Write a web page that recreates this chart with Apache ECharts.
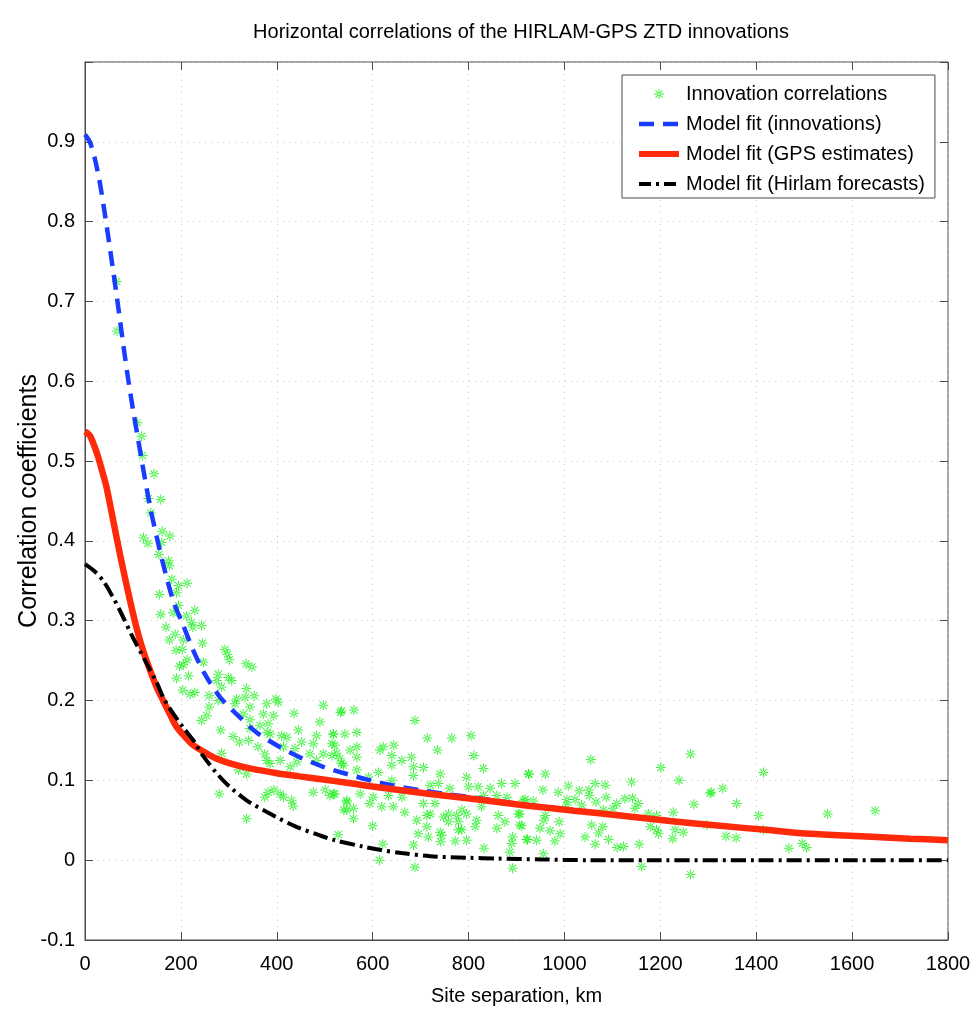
<!DOCTYPE html>
<html>
<head>
<meta charset="utf-8">
<title>Horizontal correlations of the HIRLAM-GPS ZTD innovations</title>
<script src="https://cdn.jsdelivr.net/npm/echarts@6/dist/echarts.min.js"></script>
<style>
  html, body { margin: 0; padding: 0; background: #fff; }
  #chart { width: 971px; height: 1009px; }
</style>
</head>
<body>
<div id="chart"></div>
<script>
// --- data (x: km, y: correlation) ---
const innovationPoints = [
  [66,0.725],[67,0.663],[109,0.548],[118,0.531],[120,0.507],[144,0.484],[132,0.453],[158,0.452],
  [137,0.435],[122,0.404],[131,0.397],[161,0.412],[177,0.406],[160,0.398],[154,0.383],[174,0.375],
  [176,0.369],[181,0.352],[195,0.344],[191,0.335],[213,0.347],[155,0.333],[195,0.319],[158,0.308],
  [184,0.310],[212,0.306],[229,0.313],[222,0.298],[225,0.292],[243,0.294],[169,0.292],[188,0.283],
  [176,0.276],[205,0.276],[190,0.263],[203,0.264],[245,0.272],[292,0.264],[297,0.258],[301,0.251],
  [213,0.251],[247,0.248],[197,0.243],[205,0.245],[336,0.246],[348,0.242],[216,0.231],[191,0.228],
  [278,0.233],[299,0.229],[275,0.225],[306,0.225],[285,0.217],[337,0.215],[204,0.213],[219,0.208],
  [229,0.210],[259,0.206],[278,0.200],[316,0.202],[334,0.204],[353,0.206],[398,0.202],[259,0.192],
  [313,0.196],[344,0.192],[379,0.196],[403,0.198],[497,0.194],[533,0.185],[436,0.184],[254,0.181],
  [243,0.175],[330,0.183],[372,0.183],[393,0.181],[344,0.176],[365,0.169],[382,0.171],[490,0.173],
  [283,0.163],[344,0.165],[380,0.160],[386,0.158],[410,0.156],[445,0.163],[483,0.156],[518,0.158],
  [542,0.158],[309,0.155],[322,0.148],[341,0.150],[421,0.154],[452,0.148],[476,0.146],[515,0.146],
  [361,0.142],[414,0.142],[438,0.140],[375,0.133],[469,0.133],[497,0.133],[525,0.134],[285,0.134],
  [379,0.125],[407,0.125],[442,0.123],[483,0.125],[535,0.121],[386,0.121],[428,0.117],[320,0.113],
  [337,0.108],[375,0.079],[382,0.085],[394,0.088],[407,0.083],[414,0.079],[431,0.075],[434,0.068],
  [476,0.085],[501,0.088],[511,0.081],[521,0.083],[546,0.075],[280,0.083],[337,0.052],[540,0.063],
  [535,0.187],[561,0.188],[688,0.175],[518,0.158],[567,0.160],[714,0.153],[765,0.153],[805,0.156],
  [521,0.144],[553,0.138],[567,0.142],[622,0.142],[644,0.144],[735,0.138],[515,0.131],[532,0.127],
  [567,0.129],[615,0.138],[640,0.131],[661,0.125],[681,0.129],[811,0.131],[539,0.119],[640,0.119],
  [685,0.117],[706,0.116],[831,0.115],[567,0.113],[612,0.110],[685,0.106],[741,0.108],[796,0.104],
  [925,0.108],[591,0.104],[640,0.100],[720,0.094],[737,0.096],[761,0.090],[800,0.092],[820,0.092],
  [845,0.090],[869,0.096],[897,0.096],[518,0.083],[574,0.083],[601,0.079],[633,0.081],[661,0.079],
  [831,0.081],[859,0.081],[880,0.079],[914,0.075],[546,0.073],[594,0.071],[619,0.067],[643,0.067],
  [706,0.071],[730,0.071],[827,0.067],[560,0.065],[667,0.060],[720,0.058],[758,0.058],[786,0.063],
  [546,0.063],[748,0.054],[775,0.056],[796,0.058],[862,0.056],[560,0.052],[692,0.050],[713,0.056],
  [758,0.048],[779,0.048],[817,0.050],[876,0.048],[904,0.058],[713,0.042],[741,0.035],[779,0.038],
  [786,0.038],[814,0.042],[859,0.040],[907,0.044],[600,0.043],[528,0.032],[695,0.033],[716,0.029],
  [744,0.031],[796,0.025],[772,0.024],[892,0.029],[921,0.026],[621,0.020],[685,0.019],[742,0.023],
  [890,0.021],[832,0.015],[886,0.010],[614,0.000],[688,-0.009],[892,-0.010],
  [1055,0.126],[1263,0.133],[1201,0.116],[926,0.108],[960,0.108],[1140,0.098],[1239,0.100],[1008,0.093],
  [1064,0.096],[1085,0.094],[955,0.088],[987,0.085],[1031,0.087],[1051,0.088],[1304,0.084],[918,0.076],
  [935,0.074],[1005,0.076],[1022,0.076],[1052,0.081],[1087,0.079],[1126,0.077],[1142,0.078],[1005,0.069],
  [1036,0.069],[1066,0.073],[1109,0.071],[1154,0.071],[1270,0.070],[1081,0.063],[1101,0.065],[1147,0.065],
  [1175,0.058],[1192,0.056],[1227,0.060],[960,0.056],[907,0.058],[957,0.050],[989,0.048],[1057,0.044],
  [1080,0.042],[1179,0.042],[1192,0.038],[1231,0.038],[1297,0.044],[911,0.043],[949,0.040],[970,0.037],
  [991,0.033],[1071,0.034],[1196,0.033],[1248,0.035],[923,0.026],[942,0.025],[980,0.024],[1043,0.029],
  [1092,0.026],[1226,0.027],[1064,0.020],[1110,0.016],[1123,0.017],[1156,0.020],[956,0.008],[1161,-0.008],
  [1263,-0.018],
  [1415,0.110],[1330,0.090],[1306,0.085],[1359,0.071],[1405,0.056],[1549,0.058],[1648,0.062],[1415,0.038],
  [1337,0.030],[1358,0.028],[1468,0.015],[1496,0.021],[1505,0.016]
];

const innovFitX = [0,10,20,30,40,50,60,70,80,90,100,110,120,136,150,163,184,205,226,250,282,316,358,400,448,497,546,615,705,803,900,1000,1100,1200,1300,1400,1500,1600,1700,1800];
const innovFitY = [0.909,0.900,0.880,0.852,0.815,0.775,0.733,0.690,0.645,0.603,0.565,0.530,0.495,0.442,0.404,0.371,0.325,0.294,0.2625,0.233,0.204,0.183,0.160,0.144,0.129,0.117,0.108,0.097,0.087,0.079,0.071,0.064,0.057,0.050,0.044,0.039,0.034,0.030,0.027,0.025];

const gpsFitX = [0,10,20,28,36,45,59,73,94,108,121,136,150,163,177,191,208,226,250,275,310,344,400,448,497,546,615,720,820,928,1020,1116,1220,1325,1420,1512,1620,1721,1800];
const gpsFitY = [0.537,0.532,0.518,0.504,0.487,0.467,0.425,0.383,0.325,0.290,0.263,0.2375,0.216,0.200,0.183,0.167,0.155,0.144,0.135,0.127,0.120,0.115,0.109,0.105,0.101,0.097,0.091,0.083,0.076,0.068,0.062,0.056,0.049,0.043,0.038,0.033,0.030,0.027,0.025];

const hirlamFitX = [0,20,38,56,73,100,129,150,163,177,205,226,247,288,337,393,440,490,521,580,615,660,720,800,860,950,1050,1200,1400,1600,1800];
const hirlamFitY = [0.371,0.362,0.350,0.332,0.3125,0.279,0.246,0.222,0.204,0.190,0.166,0.150,0.130,0.100,0.075,0.056,0.042,0.031,0.025,0.017,0.013,0.009,0.005,0.003,0.002,0.001,0,0,0,0,0];

const seriesNames = ['Innovation correlations', 'Model fit (innovations)', 'Model fit (GPS estimates)', 'Model fit (Hirlam forecasts)'];
const xTicks = { min: 0, max: 1800, step: 200 };
const yTicks = { min: -0.1, max: 1.0, step: 0.1 };

function pairs(xs, ys) {
  return xs.map(function (x, i) { return [x, ys[i]]; });
}

const FONT = "'Liberation Sans', Arial, sans-serif";
const AXIS_COLOR = '#4a4a4a';
const BLUE = '#1a3cff', RED = '#ff2a0a', GREEN = '#10f010';
const BLUE_DASH = [15, 9], BLACK_DASH = [15, 5, 3, 5];
// asterisk marker like matlab's '*'
const ASTERISK = 'path://M-1,-0.1L1,-0.1L1,0.1L-1,0.1Z M-0.1,-1L0.1,-1L0.1,1L-0.1,1Z M-0.78,-0.64L0.64,0.78L0.78,0.64L-0.64,-0.78Z M0.64,-0.78L-0.78,0.64L-0.64,0.78L0.78,-0.64Z';

const chart = echarts.init(document.getElementById('chart'), null, { renderer: 'canvas' });

function yLabel(v) {
  if (Math.abs(v - 1) < 1e-9) return '';
  return String(+v.toFixed(1));
}

const option = {
  animation: false,
  backgroundColor: '#fff',
  textStyle: { fontFamily: FONT },
  title: {
    text: 'Horizontal correlations of the HIRLAM-GPS ZTD innovations',
    left: 516, top: 17, textAlign: 'center',
    textStyle: { fontFamily: FONT, fontSize: 20, fontWeight: 'normal', color: '#000' }
  },
  legend: {
    orient: 'vertical',
    left: 622, top: 75,
    padding: [9, 10, 4, 14],
    itemWidth: 40, itemHeight: 10, itemGap: 10,
    backgroundColor: '#fff',
    borderColor: AXIS_COLOR, borderWidth: 1, borderRadius: 0,
    textStyle: { fontFamily: FONT, fontSize: 20, color: '#000', padding: [0, 0, 0, 2] },
    data: [
      { name: seriesNames[0] },
      { name: seriesNames[1], itemStyle: { opacity: 0 }, lineStyle: { width: 4.5, type: BLUE_DASH, color: BLUE } },
      { name: seriesNames[2], itemStyle: { opacity: 0 }, lineStyle: { width: 6, color: RED } },
      { name: seriesNames[3], itemStyle: { opacity: 0 }, lineStyle: { width: 4, type: [12, 5, 3, 5], color: '#000' } }
    ],
    selectedMode: false
  },
  grid: {
    left: 85, right: 23, top: 62, bottom: 69,
    outerBoundsMode: 'none',
    show: true, borderColor: AXIS_COLOR, borderWidth: 1
  },
  xAxis: [{
    type: 'value', min: xTicks.min, max: xTicks.max, interval: xTicks.step,
    name: 'Site separation, km', nameLocation: 'middle', nameGap: 46,
    nameTextStyle: { fontFamily: FONT, fontSize: 20, color: '#000' },
    axisLine: { onZero: false, lineStyle: { color: AXIS_COLOR } },
    axisTick: { inside: true, length: 8, lineStyle: { color: AXIS_COLOR } },
    axisLabel: { fontFamily: FONT, fontSize: 20, color: '#000', margin: 14, formatter: function (v) { return String(v); } },
    splitLine: { show: true, lineStyle: { color: '#c8c8c8', type: [1, 5] } }
  }, {
    type: 'value', position: 'top', min: xTicks.min, max: xTicks.max, interval: xTicks.step,
    axisLine: { show: false, onZero: false },
    axisTick: { inside: true, length: 8, lineStyle: { color: AXIS_COLOR } },
    axisLabel: { show: false }, splitLine: { show: false }
  }],
  yAxis: [{
    type: 'value', min: yTicks.min, max: yTicks.max, interval: yTicks.step,
    name: 'Correlation coefficients', nameLocation: 'middle', nameGap: 43, nameRotate: 90,
    nameMoveOverlap: false,
    nameTextStyle: { fontFamily: FONT, fontSize: 25, color: '#000' },
    axisLine: { show: true, onZero: false, lineStyle: { color: AXIS_COLOR } },
    axisTick: { show: true, inside: true, length: 8, lineStyle: { color: AXIS_COLOR } },
    axisLabel: { fontFamily: FONT, fontSize: 20, color: '#000', margin: 10, formatter: yLabel },
    splitLine: { show: true, lineStyle: { color: '#c8c8c8', type: [1, 5] } }
  }, {
    type: 'value', position: 'right', min: yTicks.min, max: yTicks.max, interval: yTicks.step,
    axisLine: { show: false, onZero: false },
    axisTick: { show: true, inside: true, length: 8, lineStyle: { color: AXIS_COLOR } },
    axisLabel: { show: false }, splitLine: { show: false }
  }],
  series: [
    {
      name: seriesNames[0], type: 'scatter', data: innovationPoints,
      symbol: ASTERISK, symbolSize: 10,
      itemStyle: { color: GREEN }, silent: true, z: 2
    },
    {
      name: seriesNames[1], type: 'line', data: pairs(innovFitX, innovFitY),
      showSymbol: false, symbol: 'none', smooth: 0.3,
      lineStyle: { color: BLUE, width: 4.5, type: BLUE_DASH, cap: 'butt' },
      itemStyle: { color: BLUE }, silent: true, z: 3
    },
    {
      name: seriesNames[2], type: 'line', data: pairs(gpsFitX, gpsFitY),
      showSymbol: false, symbol: 'none', smooth: 0.3,
      lineStyle: { color: RED, width: 6.5 },
      itemStyle: { color: RED }, silent: true, z: 4
    },
    {
      name: seriesNames[3], type: 'line', data: pairs(hirlamFitX, hirlamFitY),
      showSymbol: false, symbol: 'none', smooth: 0.3,
      lineStyle: { color: '#000', width: 4, type: BLACK_DASH, cap: 'butt' },
      itemStyle: { color: '#000' }, silent: true, z: 5
    }
  ]
};

chart.setOption(option);
</script>
</body>
</html>
